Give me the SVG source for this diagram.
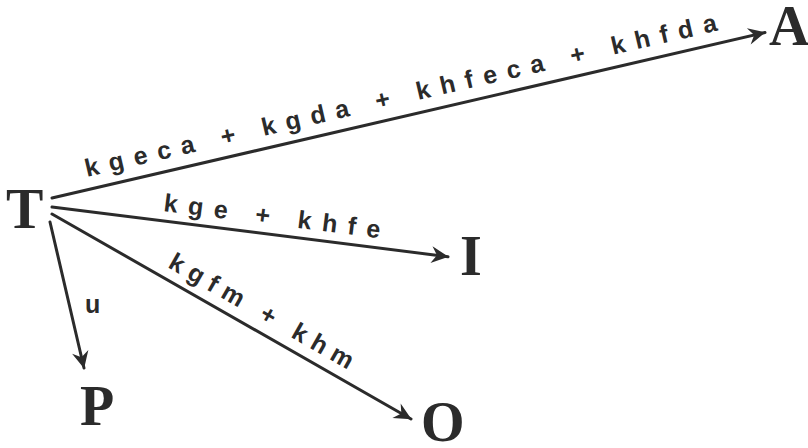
<svg xmlns="http://www.w3.org/2000/svg" width="808" height="448" viewBox="0 0 808 448">
  <style>
    .node { font-family: "Liberation Serif", "Times New Roman", serif; font-weight: bold; font-size: 56px; fill: #2b2b2b; }
    .lbl { font-family: "Liberation Sans", Arial, sans-serif; font-weight: bold; font-size: 25px; fill: #2b2b2b; }
    .edge { stroke: #2b2b2b; stroke-width: 3; fill: none; stroke-linecap: round; }
  </style>
  <defs>
    <marker id="arrow" markerUnits="userSpaceOnUse" markerWidth="20" markerHeight="20" viewBox="-16 -9 18 18" refX="0" refY="0" orient="auto">
      <path d="M -15 -7.5 L 0.5 0 L -15 7.5 L -10 0 Z" fill="#2b2b2b"/>
    </marker>
  </defs>
  <rect width="808" height="448" fill="#ffffff"/>

  <!-- connectors -->
  <g id="edges">
    <line class="edge" x1="52" y1="198" x2="765" y2="32.5" marker-end="url(#arrow)"/>
    <line class="edge" x1="52" y1="207" x2="448" y2="256.7" marker-end="url(#arrow)"/>
    <line class="edge" x1="52" y1="214" x2="411" y2="419" marker-end="url(#arrow)"/>
    <line class="edge" x1="50" y1="222" x2="84" y2="368" marker-end="url(#arrow)"/>
  </g>

  <!-- edge labels -->
  <g id="labels">
    <text class="lbl" x="87" y="177" transform="rotate(-13.07 87 177)" textLength="648" lengthAdjust="spacing">kgeca + kgda + khfeca + khfda</text>
    <text class="lbl" x="163" y="211" transform="rotate(7.16 163 211)" textLength="218" lengthAdjust="spacing">kge + khfe</text>
    <text class="lbl" x="167" y="267" transform="rotate(29.6 167 267)" textLength="208" lengthAdjust="spacing">kgfm + khm</text>
    <text class="lbl" x="85" y="313">u</text>
  </g>

  <!-- nodes -->
  <g id="node-T"><text class="node" x="6" y="228">T</text></g>
  <g id="node-A"><text class="node" x="769" y="45">A</text></g>
  <g id="node-I"><text class="node" x="460" y="275">I</text></g>
  <g id="node-P"><text class="node" x="80" y="425">P</text></g>
  <g id="node-O"><text class="node" x="421" y="441">O</text></g>
</svg>
